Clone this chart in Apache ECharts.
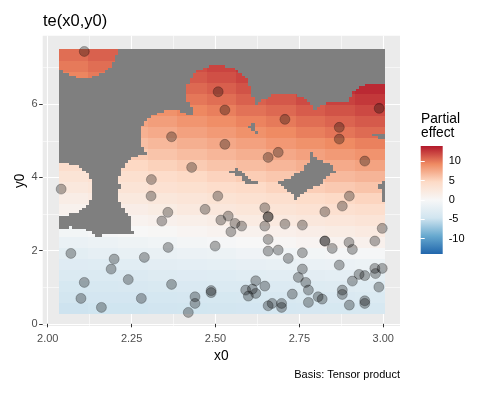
<!DOCTYPE html>
<html>
<head>
<meta charset="utf-8">
<script src="https://cdn.jsdelivr.net/npm/echarts@6/dist/echarts.min.js"></script>
<style>
  html, body { margin: 0; padding: 0; background: #fff; }
  #chart { width: 486px; height: 393px; }
</style>
</head>
<body>
<div id="chart"></div>
<script>
var pointX = [2.109, 2.508, 2.528, 2.707, 2.869, 2.869, 2.988, 2.528, 2.687, 2.657,
  2.945, 2.369, 2.429, 2.309, 2.040, 2.308, 2.507, 2.358, 2.340, 2.469,
  2.516, 2.538, 2.558, 2.578, 2.546, 2.647, 2.657, 2.657, 2.647, 2.707,
  2.759, 2.826, 2.878, 2.899, 2.499, 2.657, 2.657, 2.687, 2.717, 2.759,
  2.826, 2.826, 2.848, 2.898, 2.908, 2.975, 2.997, 2.069, 2.198, 2.189,
  2.288, 2.359, 2.109, 2.099, 2.160, 2.240, 2.279, 2.369, 2.419, 2.439,
  2.439, 2.487, 2.487, 2.869, 2.759, 2.747, 2.769, 2.777, 2.647, 2.620,
  2.590, 2.610, 2.620, 2.598, 2.729, 2.669, 2.657, 2.697, 2.697, 2.777,
  2.806, 2.818, 2.878, 2.878, 2.899, 2.908, 2.928, 2.945, 2.975, 2.977,
  2.997, 2.987, 2.945, 2.945];
var pointY = [7.440, 6.339, 5.839, 5.585, 5.366, 5.046, 5.885, 4.902, 4.683, 4.546,
  4.445, 5.109, 4.273, 3.940, 3.680, 3.489, 3.489, 3.044, 2.806, 3.126,
  2.833, 2.943, 2.743, 2.669, 2.514, 3.169, 2.923, 2.923, 2.669, 2.724,
  2.697, 3.060, 3.216, 3.489, 2.123, 2.306, 1.986, 2.014, 1.787, 1.940,
  2.260, 2.260, 2.060, 2.224, 2.033, 2.260, 2.607, 1.923, 1.768, 1.495,
  1.814, 2.087, 1.131, 0.694, 0.448, 1.208, 0.694, 1.077, 0.311, 0.738,
  0.557, 0.907, 0.852, 1.604, 1.495, 1.268, 1.131, 0.921, 1.030, 1.175,
  0.921, 0.948, 0.831, 0.757, 0.811, 0.557, 0.492, 0.557, 0.448, 0.585,
  0.738, 0.675, 0.921, 0.803, 0.511, 1.167, 1.350, 1.317, 1.514, 1.372,
  1.514, 1.003, 0.628, 0.557];

// partial effect estimated from the fill colours; rows bottom -> top
var effectX = [2.079, 2.167, 2.256, 2.344, 2.432, 2.520, 2.608, 2.697, 2.785, 2.873, 2.961];
var effectY = [0.44, 0.74, 1.04, 1.34, 1.64, 1.94, 2.24, 2.54, 2.84, 3.14, 3.44, 3.74,
  4.04, 4.34, 4.64, 4.94, 5.24, 5.54, 5.84, 6.14, 6.44, 6.74, 7.04, 7.34];
var effectValues = [
  [-4.8, -4.7, -4.7, -4.6, -4.5, -4.4, -4.3, -4.2, -4.1, -4.0, -3.9],
  [-4.4, -4.3, -4.3, -4.2, -4.1, -4.0, -3.9, -3.8, -3.7, -3.6, -3.5],
  [-4.0, -3.9, -3.8, -3.7, -3.6, -3.5, -3.4, -3.3, -3.2, -3.1, -2.9],
  [-3.5, -3.4, -3.3, -3.1, -3.0, -2.9, -2.7, -2.6, -2.5, -2.3, -2.2],
  [-3.0, -2.9, -2.7, -2.5, -2.3, -2.2, -2.0, -1.8, -1.6, -1.5, -1.3],
  [-2.4, -2.1, -1.9, -1.7, -1.5, -1.3, -1.0, -0.8, -0.6, -0.4, -0.2],
  [-1.6, -1.3, -1.1, -0.8, -0.5, -0.2, 0.0, 0.3, 0.6, 0.8, 1.1],
  [-0.6, -0.3, 0.0, 0.2, 0.5, 0.8, 1.0, 1.3, 1.6, 1.8, 2.1],
  [0.2, 0.5, 0.8, 1.1, 1.4, 1.7, 2.0, 2.3, 2.6, 2.8, 3.1],
  [1.0, 1.3, 1.6, 1.9, 2.3, 2.6, 2.9, 3.2, 3.5, 3.8, 4.1],
  [1.7, 2.1, 2.4, 2.7, 3.0, 3.4, 3.7, 4.0, 4.4, 4.7, 5.0],
  [2.5, 2.9, 3.2, 3.6, 3.9, 4.3, 4.6, 5.0, 5.4, 5.7, 6.0],
  [3.2, 3.6, 3.9, 4.3, 4.7, 5.1, 5.5, 5.8, 6.2, 6.6, 6.9],
  [4.1, 4.4, 4.8, 5.2, 5.6, 6.0, 6.4, 6.8, 7.2, 7.5, 7.9],
  [4.8, 5.2, 5.6, 6.0, 6.4, 6.8, 7.2, 7.6, 8.0, 8.4, 8.8],
  [5.5, 5.9, 6.3, 6.7, 7.2, 7.6, 8.0, 8.5, 8.9, 9.3, 9.7],
  [6.2, 6.7, 7.1, 7.5, 8.0, 8.4, 8.9, 9.3, 9.8, 10.2, 10.6],
  [6.9, 7.4, 7.8, 8.2, 8.7, 9.1, 9.6, 10.0, 10.5, 10.9, 11.3],
  [7.6, 8.1, 8.5, 8.9, 9.4, 9.8, 10.3, 10.7, 11.2, 11.6, 12.0],
  [8.3, 8.8, 9.2, 9.6, 10.1, 10.5, 11.0, 11.4, 11.9, 12.3, 12.7],
  [8.9, 9.4, 9.8, 10.2, 10.7, 11.1, 11.6, 12.0, 12.5, 12.9, 13.3],
  [9.5, 10.0, 10.4, 10.8, 11.3, 11.7, 12.2, 12.6, 13.1, 13.5, 13.9],
  [10.0, 10.5, 10.9, 11.3, 11.8, 12.2, 12.7, 13.1, 13.6, 14.0, 14.0],
  [10.5, 11.0, 11.4, 11.8, 12.3, 12.7, 13.2, 13.6, 14.0, 14.0, 14.0]
];

var xTicks = [2, 2.25, 2.5, 2.75, 3];
var xMinor = [2.125, 2.375, 2.625, 2.875];
var yTicks = [0, 2, 4, 6];
var yMinor = [1, 3, 5, 7];
var legendTicks = [-10, -5, 0, 5, 10];
var effectLimit = 14;

// raster extent and "too far" exclusion (grid of 100 x 100, dist 0.1)
var fieldX = [2.035, 3.005];
var fieldY = [0.29, 7.50];
var rasterN = 100;
var tooFar = 0.1;

var palette = ['#2166AC', '#67A9CF', '#D1E5F0', '#F7F7F7', '#FDDBC7', '#EF8A62', '#B2182B'];
var font = 'Liberation Sans, Arial, sans-serif';

var effectData = [];
effectY.forEach(function (y, r) {
  effectX.forEach(function (x, c) {
    effectData.push([x, y, effectValues[r][c]]);
  });
});
var effHalfX = (effectX[1] - effectX[0]) / 2;
var effHalfY = (effectY[1] - effectY[0]) / 2;

// cells of the raster that are too far from any data point
var stepX = (fieldX[1] - fieldX[0]) / rasterN;
var stepY = (fieldY[1] - fieldY[0]) / rasterN;
var gx0 = fieldX[0] + stepX / 2, gy0 = fieldY[0] + stepY / 2;
var spanX = stepX * (rasterN - 1), spanY = stepY * (rasterN - 1);
var maskData = [];
for (var i = 0; i < rasterN; i++) {
  for (var j = 0; j < rasterN; j++) {
    var gx = gx0 + i * stepX, gy = gy0 + j * stepY;
    var best = Infinity;
    for (var k = 0; k < pointX.length; k++) {
      var dx = (gx - pointX[k]) / spanX, dy = (gy - pointY[k]) / spanY;
      var d = dx * dx + dy * dy;
      if (d < best) best = d;
    }
    if (best > tooFar * tooFar) maskData.push([gx, gy]);
  }
}

// rects snapped to whole pixels so neighbouring cells leave no seams;
// "grow" widens them outward to cover rounding in the coarse cell centres
function cellRenderer(hx, hy, fixedColor, grow) {
  return function (params, api) {
    var x = api.value(0), y = api.value(1);
    var p0 = api.coord([x - hx, y + hy]);
    var p1 = api.coord([x + hx, y - hy]);
    var x0, y0, x1, y1;
    if (grow) {
      x0 = Math.floor(p0[0]); y0 = Math.floor(p0[1]);
      x1 = Math.ceil(p1[0]); y1 = Math.ceil(p1[1]);
    } else {
      x0 = Math.round(p0[0]); y0 = Math.round(p0[1]);
      x1 = Math.round(p1[0]); y1 = Math.round(p1[1]);
    }
    return {
      type: 'rect',
      shape: { x: x0, y: y0, width: x1 - x0, height: y1 - y0 },
      style: { fill: fixedColor || api.visual('color'), lineWidth: 0 }
    };
  };
}

var chart = echarts.init(document.getElementById('chart'));
var option = {
  animation: false,
  textStyle: { fontFamily: font },
  title: {
    text: 'te(x0,y0)', left: 43, top: 13, padding: 0,
    textStyle: { fontFamily: font, fontSize: 16.5, fontWeight: 'normal', color: '#000' }
  },
  grid: [
    { left: 42.7, top: 35.7, width: 357.3, height: 290.3, show: true, backgroundColor: '#EBEBEB', borderWidth: 0 },
    { left: 420.7, top: 146, width: 22, height: 108 }
  ],
  visualMap: {
    type: 'continuous', show: false, min: -effectLimit, max: effectLimit,
    dimension: 2, seriesIndex: 0, inRange: { color: palette }
  },
  xAxis: [
    {
      type: 'value', gridIndex: 0, min: 1.985, max: 3.05,
      name: 'x0', nameLocation: 'middle', nameGap: 21,
      nameTextStyle: { fontFamily: font, fontSize: 13.75, color: '#000' },
      axisLine: { show: false },
      axisTick: { show: true, length: 3.5, customValues: xTicks, lineStyle: { color: '#333', width: 1 } },
      axisLabel: { customValues: xTicks, margin: 7, color: '#4D4D4D', fontSize: 11,
        formatter: function (v) { return v.toFixed(2); } },
      splitLine: { show: true, lineStyle: { color: '#fff', width: 1.1 } }
    },
    {
      type: 'value', gridIndex: 0, min: 1.985, max: 3.05,
      axisLine: { show: false },
      axisTick: { show: false, customValues: xMinor },
      axisLabel: { show: false, customValues: xMinor },
      splitLine: { show: true, lineStyle: { color: '#fff', width: 0.55 } }
    },
    { type: 'value', gridIndex: 1, min: 0, max: 1, show: false }
  ],
  yAxis: [
    {
      type: 'value', gridIndex: 0, min: -0.06, max: 7.87,
      name: 'y0', nameLocation: 'middle', nameGap: 15, nameRotate: 90, nameMoveOverlap: false,
      nameTextStyle: { fontFamily: font, fontSize: 13.75, color: '#000' },
      axisLine: { show: false },
      axisTick: { show: true, length: 3.5, customValues: yTicks, lineStyle: { color: '#333', width: 1 } },
      axisLabel: { customValues: yTicks, margin: 5, color: '#4D4D4D', fontSize: 11 },
      splitLine: { show: true, lineStyle: { color: '#fff', width: 1.1 } }
    },
    {
      type: 'value', gridIndex: 0, min: -0.06, max: 7.87,
      axisLine: { show: false },
      axisTick: { show: false, customValues: yMinor },
      axisLabel: { show: false, customValues: yMinor },
      splitLine: { show: true, lineStyle: { color: '#fff', width: 0.55 } }
    },
    {
      type: 'value', gridIndex: 1, min: -effectLimit, max: effectLimit, position: 'right', z: 5,
      axisLine: { show: false },
      axisTick: { show: true, inside: true, length: 4, customValues: legendTicks, lineStyle: { color: '#fff', width: 1 } },
      axisLabel: { customValues: legendTicks, margin: 6, color: '#000', fontSize: 11 },
      splitLine: { show: false }
    },
    {
      type: 'value', gridIndex: 1, min: -effectLimit, max: effectLimit, position: 'left', z: 5,
      axisLine: { show: false },
      axisTick: { show: true, inside: true, length: 4, customValues: legendTicks, lineStyle: { color: '#fff', width: 1 } },
      axisLabel: { show: false, customValues: legendTicks },
      splitLine: { show: false }
    }
  ],
  graphic: [
    {
      type: 'text', left: 421, top: 112,
      style: { text: 'Partial\neffect', font: '13.75px ' + font, lineHeight: 14, fill: '#000' }
    },
    {
      type: 'text', right: 86, top: 369,
      style: { text: 'Basis: Tensor product', font: '11px ' + font, fill: '#000' }
    }
  ],
  series: [
    {
      type: 'custom', name: 'effect', xAxisIndex: 0, yAxisIndex: 0, z: 2,
      encode: { x: 0, y: 1 }, progressive: 0,
      renderItem: cellRenderer(effHalfX, effHalfY, null, true),
      data: effectData
    },
    {
      type: 'custom', name: 'too far', xAxisIndex: 0, yAxisIndex: 0, z: 3,
      encode: { x: 0, y: 1 }, progressive: 0,
      renderItem: cellRenderer(stepX / 2, stepY / 2, '#7F7F7F', false),
      data: maskData
    },
    {
      type: 'scatter', name: 'data', xAxisIndex: 0, yAxisIndex: 0, z: 4,
      symbolSize: 10, progressive: 0,
      itemStyle: { color: 'rgba(0,0,0,0.38)', borderColor: 'rgba(0,0,0,0.3)', borderWidth: 1 },
      data: pointX.map(function (x, i) { return [x, pointY[i]]; })
    },
    {
      type: 'custom', name: 'colourbar', xAxisIndex: 2, yAxisIndex: 2, z: 2,
      renderItem: function (params, api) {
        var top = api.coord([0, effectLimit]);
        var bottom = api.coord([1, -effectLimit]);
        var stops = palette.slice().reverse().map(function (c, i) {
          return { offset: i / (palette.length - 1), color: c };
        });
        return {
          type: 'rect',
          shape: { x: top[0], y: top[1], width: bottom[0] - top[0], height: bottom[1] - top[1] },
          style: { fill: new echarts.graphic.LinearGradient(0, 0, 0, 1, stops) }
        };
      },
      data: [[0.5, 0]]
    }
  ]
};
chart.setOption(option);
</script>
</body>
</html>
